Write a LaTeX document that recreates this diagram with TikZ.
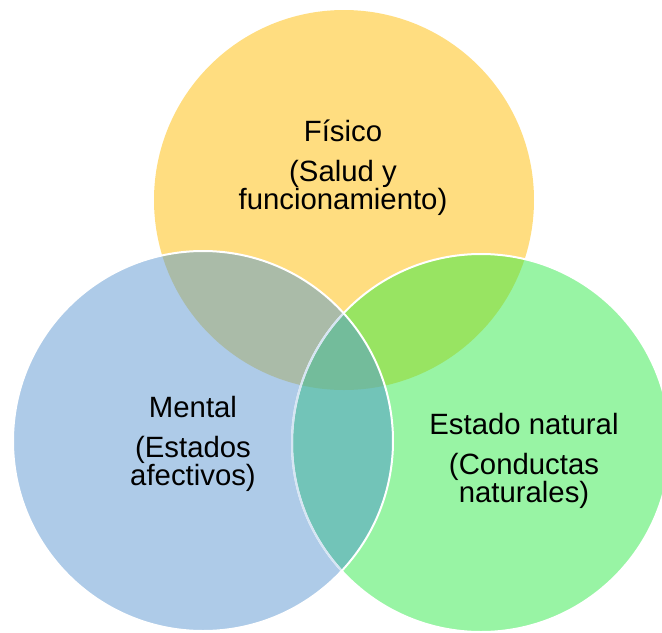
\documentclass[tikz,border=0pt]{standalone}
\usepackage{fontspec}
\setmainfont{Liberation Sans}
\definecolor{fisicoY}{HTML}{FFDD80}
\definecolor{mentalB}{HTML}{AECBE8}
\definecolor{naturalG}{HTML}{98F4A4}
\definecolor{fisicoMental}{HTML}{AABBA8}
\definecolor{fisicoNatural}{HTML}{98E462}
\definecolor{mentalNatural}{HTML}{72C4B8}
\definecolor{centroC}{HTML}{73BC9B}
\definecolor{paleRim}{HTML}{D6E5F3}
\begin{document}
\begin{tikzpicture}[x=0.75pt,y=0.75pt,yscale=-1]
\tikzset{
  rim/.style={draw=white, line width=1.5pt},
  venntext/.style={align=center, anchor=base, font=\fontsize{22}{21}\selectfont}
}
\useasboundingbox (0,0) rectangle (662,633);

%Shape: Circle [id:fisico]
\fill[fisicoY] (344,200) circle [radius=190];
%Shape: Circle [id:natural]
\fill[naturalG] (481,443) circle [radius=189];
%Shape: Circle [id:mental]
\fill[mentalB] (203,441) circle [radius=190];

%Overlaps
\begin{scope}
\clip (344,200) circle [radius=190];
\fill[fisicoMental] (203,441) circle [radius=190];
\fill[fisicoNatural] (481,443) circle [radius=189];
\end{scope}
\begin{scope}
\clip (203,441) circle [radius=190];
\fill[mentalNatural] (481,443) circle [radius=189];
\end{scope}
\begin{scope}
\clip (344,200) circle [radius=190];
\clip (203,441) circle [radius=190];
\fill[centroC] (481,443) circle [radius=189];
\end{scope}

%Rims
\draw[rim] (481,443) circle [radius=189];
\begin{scope}
\clip (203,441) circle [radius=190];
\draw[rim, draw=paleRim] (481,443) circle [radius=189];
\end{scope}
\draw[rim] (203,441) circle [radius=190];

% Text Node
\node[venntext] (fisico) at (343,209) {Físico\\[9pt](Salud y\\funcionamiento)};
% Text Node
\node[venntext] (mental) at (193,485) {Mental\\[9pt](Estados\\afectivos)};
% Text Node
\node[venntext] (natural) at (524,502) {Estado natural\\[9pt](Conductas\\naturales)};

\end{tikzpicture}
\end{document}
